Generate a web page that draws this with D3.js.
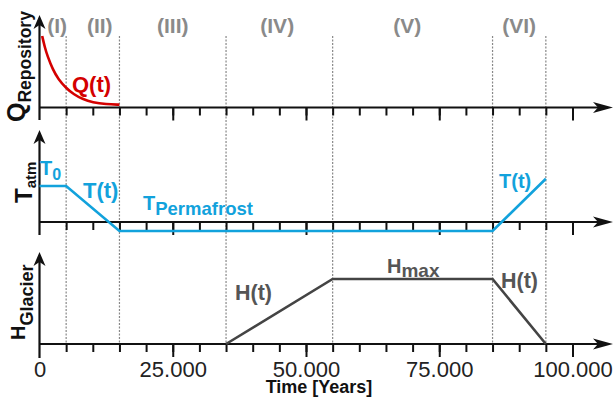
<!DOCTYPE html>
<html>
<head>
<meta charset="utf-8">
<script src="https://cdn.jsdelivr.net/npm/d3@7"></script>
<style>
  html, body { margin: 0; padding: 0; background: #fff; }
  svg { display: block; font-family: "Liberation Sans", Arial, sans-serif; }
</style>
</head>
<body>
<svg id="chart" width="616" height="401"></svg>
<script>
// Phase boundaries along the time axis (years)
const boundaries = [5000, 15000, 35000, 55000, 85000, 95000];
const phaseLabels = ["(I)", "(II)", "(III)", "(IV)", "(V)", "(VI)"];
const phaseLabelYears = [3300, 11300, 25000, 44600, 69000, 90000];

// Time axis ticks
const minorTicks = d3.range(5000, 100001, 5000);
const majorTicks = [25000, 50000, 75000, 100000];
const tickLabels = [0, 25000, 50000, 75000, 100000];

// Repository heat output Q(t) (relative)
const qYears  = [500, 1000, 1500, 2500, 3500, 5000, 6500, 8000, 10000, 12500, 15000];
const qValues = [1.0, 0.84, 0.72, 0.53, 0.40, 0.27, 0.18, 0.12, 0.07, 0.045, 0.04];

// Atmospheric temperature T(t) (relative: T0 = 1, 0 on the axis)
const tYears  = [0, 5000, 15000, 85000, 95000];
const tValues = [1, 1, -0.25, -0.25, 1.2];

// Glacier thickness H(t) (relative to Hmax)
const hYears  = [35000, 55000, 85000, 95000];
const hValues = [0, 1, 1, 0];

const svg = d3.select("#chart");
const x = d3.scaleLinear().domain([0, 100000]).range([39.5, 572.5]);

const panels = [
  { axisY: 107.5, tip: 15,  bottom: 120 },
  { axisY: 222,   tip: 130, bottom: 235 },
  { axisY: 344,   tip: 252, bottom: 358 }
];
const yQ = d3.scaleLinear().domain([0, 1]).range([107.5, 36]);
const yT = d3.scaleLinear().domain([0, 1]).range([222, 186]);
const yH = d3.scaleLinear().domain([0, 1]).range([344, 279]);

const red = "#d40000", blue = "#12a2dc", dark = "#444444", phaseGray = "#8a8a8a";

// dotted phase boundaries
svg.append("g").selectAll("line").data(boundaries).join("line")
  .attr("x1", d => x(d)).attr("x2", d => x(d))
  .attr("y1", 36).attr("y2", 344)
  .attr("stroke", "#888").attr("stroke-width", 1.2)
  .attr("stroke-dasharray", "2,1.5");

// phase labels
svg.append("g").selectAll("text").data(phaseLabels).join("text")
  .attr("x", (d, i) => x(phaseLabelYears[i]))
  .attr("y", 33)
  .attr("text-anchor", "middle")
  .attr("font-size", 21).attr("font-weight", "bold")
  .attr("fill", phaseGray)
  .text(d => d);

// axes of every panel
const fmt = d3.formatLocale({ decimal: ",", thousands: ".", grouping: [3], currency: ["", ""] }).format(",d");

panels.forEach((p, i) => {
  const g = svg.append("g").attr("transform", `translate(0,${p.axisY})`);
  const minorAxis = d3.axisBottom(x).tickValues(minorTicks).tickSize(8).tickFormat("");
  const majorAxis = d3.axisBottom(x).tickValues(majorTicks).tickSize(13).tickFormat("");
  g.append("g").call(minorAxis);
  g.append("g").call(majorAxis);
  if (i === 2) {
    const labelAxis = d3.axisBottom(x).tickValues(tickLabels).tickSize(0).tickPadding(17.5).tickFormat(fmt);
    g.append("g").attr("class", "labels").call(labelAxis)
      .selectAll("text").attr("font-size", 22).attr("fill", "#222")
      .attr("font-family", "Liberation Sans, Arial, sans-serif");
  }
  g.selectAll(".domain").remove();
  g.selectAll(".tick line").attr("stroke", "#111").attr("stroke-width", 2);
  g.selectAll(".labels .tick line").remove();

  // horizontal axis with arrow
  g.append("line").attr("x1", x(0) - 0.5).attr("x2", 600).attr("y1", 0).attr("y2", 0)
    .attr("stroke", "#111").attr("stroke-width", 2.2);
  g.append("path").attr("d", "M613,0 L593,-5.5 L598,0 L593,5.5 Z").attr("fill", "#111");

  // vertical axis with arrow
  svg.append("line").attr("x1", x(0)).attr("x2", x(0))
    .attr("y1", p.tip + 8).attr("y2", p.bottom)
    .attr("stroke", "#111").attr("stroke-width", 2.2);
  svg.append("path")
    .attr("d", `M${x(0)},${p.tip} L${x(0) - 6},${p.tip + 14} L${x(0)},${p.tip + 10} L${x(0) + 6},${p.tip + 14} Z`)
    .attr("fill", "#111");
});

// data curves
const qLine = d3.line().x((d, i) => x(qYears[i])).y(d => yQ(d)).curve(d3.curveBasis);
svg.append("path").datum(qValues).attr("d", qLine)
  .attr("fill", "none").attr("stroke", red).attr("stroke-width", 2.6);

const tLine = d3.line().x((d, i) => x(tYears[i])).y(d => yT(d));
svg.append("path").datum(tValues).attr("d", tLine)
  .attr("fill", "none").attr("stroke", blue).attr("stroke-width", 2.6);

const hLine = d3.line().x((d, i) => x(hYears[i])).y(d => yH(d));
svg.append("path").datum(hValues).attr("d", hLine)
  .attr("fill", "none").attr("stroke", dark).attr("stroke-width", 2.6);

// curve annotations
function label(px, py, main, sub, size, subSize, color, subDy) {
  const t = svg.append("text").attr("x", px).attr("y", py)
    .attr("font-weight", "bold").attr("fill", color).attr("font-size", size);
  t.append("tspan").text(main);
  if (sub) t.append("tspan").attr("dy", subDy).attr("font-size", subSize).text(sub);
  return t;
}
label(72, 92, "Q(t)", null, 22, 0, red, 0);
label(40, 175, "T", "0", 20, 16, blue, 5);
label(83, 198, "T(t)", null, 22, 0, blue, 0);
label(143, 210, "T", "Permafrost", 20, 18.5, blue, 5);
label(499, 188, "T(t)", null, 20, 0, blue, 0);
label(235, 300, "H(t)", null, 21.5, 0, "#555", 0);
label(387, 273, "H", "max", 20, 19, "#555", 4);
label(501, 288, "H(t)", null, 21.5, 0, "#555", 0);

// vertical axis titles
function axisTitle(px, py, main, sub, size, subSize, subDy) {
  const t = svg.append("text").attr("transform", `translate(${px},${py}) rotate(-90)`)
    .attr("font-weight", "bold").attr("fill", "#111").attr("font-size", size);
  t.append("tspan").text(main);
  t.append("tspan").attr("dy", subDy).attr("font-size", subSize).text(sub);
}
axisTitle(25, 122, "Q", "Repository", 25, 17.5, 6);
axisTitle(32, 203, "T", "atm", 24, 15, 4);
axisTitle(25, 340, "H", "Glacier", 20, 18, 8);

// time axis title
svg.append("text").attr("x", 319).attr("y", 393)
  .attr("text-anchor", "middle").attr("font-weight", "bold")
  .attr("font-size", 18).attr("fill", "#111")
  .text("Time [Years]");
</script>
</body>
</html>
